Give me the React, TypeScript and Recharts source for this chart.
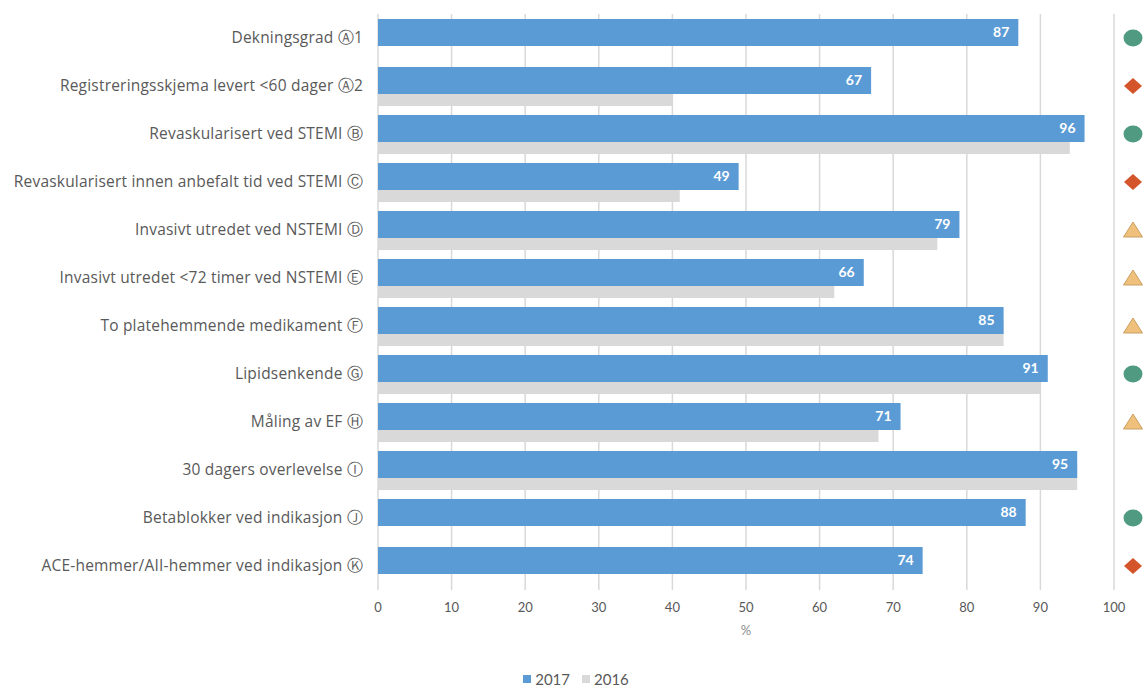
import { BarChart, Bar, XAxis, YAxis, CartesianGrid, LabelList, Legend } from 'recharts'

const categories = [
  'Dekningsgrad Ⓐ1',
  'Registreringsskjema levert <60 dager Ⓐ2',
  'Revaskularisert ved STEMI Ⓑ',
  'Revaskularisert innen anbefalt tid ved STEMI Ⓒ',
  'Invasivt utredet ved NSTEMI Ⓓ',
  'Invasivt utredet <72 timer ved NSTEMI Ⓔ',
  'To platehemmende medikament Ⓕ',
  'Lipidsenkende Ⓖ',
  'Måling av EF Ⓗ',
  '30 dagers overlevelse Ⓘ',
  'Betablokker ved indikasjon Ⓙ',
  'ACE-hemmer/AII-hemmer ved indikasjon Ⓚ',
]
const values2017 = [87, 67, 96, 49, 79, 66, 85, 91, 71, 95, 88, 74]
const values2016 = [null, 40, 94, 41, 76, 62, 85, 90, 68, 95, null, null]
// måloppnåelse: høy / moderat / lav ('' = ingen vurdering)
const levels = ['high', 'low', 'high', 'low', 'mid', 'mid', 'mid', 'high', 'mid', '', 'high', 'low']
const xTicks = [0, 10, 20, 30, 40, 50, 60, 70, 80, 90, 100]

const BLUE = '#5B9BD5'
const GRAY = '#D9D9D9'
const TEXT = '#595959'
const FONT = 'Lato, "Open Sans", sans-serif'
const LABEL_FONT = '"Open Sans", Lato, sans-serif'

const data = categories.map((name, i) => ({
  name,
  y2017: values2017[i],
  y2016: values2016[i],
}))

function CategoryTick({ x, y, payload }: any) {
  return (
    <text
      x={x}
      y={y}
      dy="0.35em"
      textAnchor="end"
      fill={TEXT}
      fontSize={15.5}
      letterSpacing={0.2}
      fontFamily={LABEL_FONT}
    >
      {payload.value}
    </text>
  )
}

function LevelTick({ x, y, payload }: any) {
  const level = levels[payload.index]
  if (level === 'high') {
    return <ellipse cx={x} cy={y} rx={9.5} ry={8.5} fill="#4F9A80" />
  }
  if (level === 'low') {
    return <polygon points={`${x},${y - 8} ${x + 9},${y} ${x},${y + 8} ${x - 9},${y}`} fill="#D4542C" />
  }
  if (level === 'mid') {
    return (
      <polygon
        points={`${x},${y - 8} ${x + 9.5},${y + 7} ${x - 9.5},${y + 7}`}
        fill="#EEC07C"
        stroke="#C9A163"
        strokeWidth={1}
      />
    )
  }
  return <g />
}

function LegendContent({ payload }: any) {
  const items = [...(payload || [])].sort((a, b) => String(b.value).localeCompare(String(a.value)))
  return (
    <div
      style={{
        display: 'flex',
        justifyContent: 'center',
        alignItems: 'center',
        gap: 12,
        marginTop: 14,
        paddingLeft: 6,
        fontFamily: FONT,
        fontSize: 15,
        color: TEXT,
      }}
    >
      {items.map((item: any) => (
        <span key={item.value} style={{ display: 'flex', alignItems: 'center', gap: 4 }}>
          <span style={{ width: 8, height: 8, background: item.color, display: 'inline-block' }} />
          {item.value}
        </span>
      ))}
    </div>
  )
}

export default function App() {
  return (
    <div style={{ position: 'absolute', left: 0, top: 0, background: '#fff' }}>
      <BarChart
        width={1146}
        height={686}
        data={data}
        layout="vertical"
        margin={{ top: 14, right: 0, bottom: 0, left: 0 }}
        barGap={-39}
        barCategoryGap={0}
      >
        <CartesianGrid horizontal={false} stroke={GRAY} strokeWidth={1.5} />
        <XAxis
          type="number"
          domain={[0, 100]}
          ticks={xTicks}
          axisLine={false}
          tickLine={false}
          tickSize={0}
          tickMargin={13}
          height={66}
          tick={{ fill: TEXT, fontSize: 13, fontFamily: FONT }}
          label={{ value: '%', position: 'insideTop', offset: 36, fill: '#8C8C8C', fontSize: 13, fontFamily: FONT }}
        />
        <YAxis
          yAxisId="cat"
          type="category"
          dataKey="name"
          width={378}
          axisLine={false}
          tickLine={false}
          tickSize={0}
          tickMargin={15}
          interval={0}
          tick={<CategoryTick />}
        />
        <YAxis
          yAxisId="level"
          orientation="right"
          type="category"
          dataKey="name"
          width={32}
          axisLine={false}
          tickLine={false}
          tickSize={0}
          tickMargin={19}
          interval={0}
          tick={<LevelTick />}
        />
        <Bar yAxisId="cat" dataKey="y2016" name="2016" fill={GRAY} barSize={27} isAnimationActive={false} />
        <Bar yAxisId="cat" dataKey="y2017" name="2017" fill={BLUE} barSize={27} isAnimationActive={false}>
          <LabelList
            dataKey="y2017"
            position="insideRight"
            offset={9}
            fill="#fff"
            fontSize={14}
            fontWeight="bold"
            fontFamily={FONT}
          />
        </Bar>
        <Legend verticalAlign="bottom" height={30} content={<LegendContent />} />
      </BarChart>
    </div>
  )
}
